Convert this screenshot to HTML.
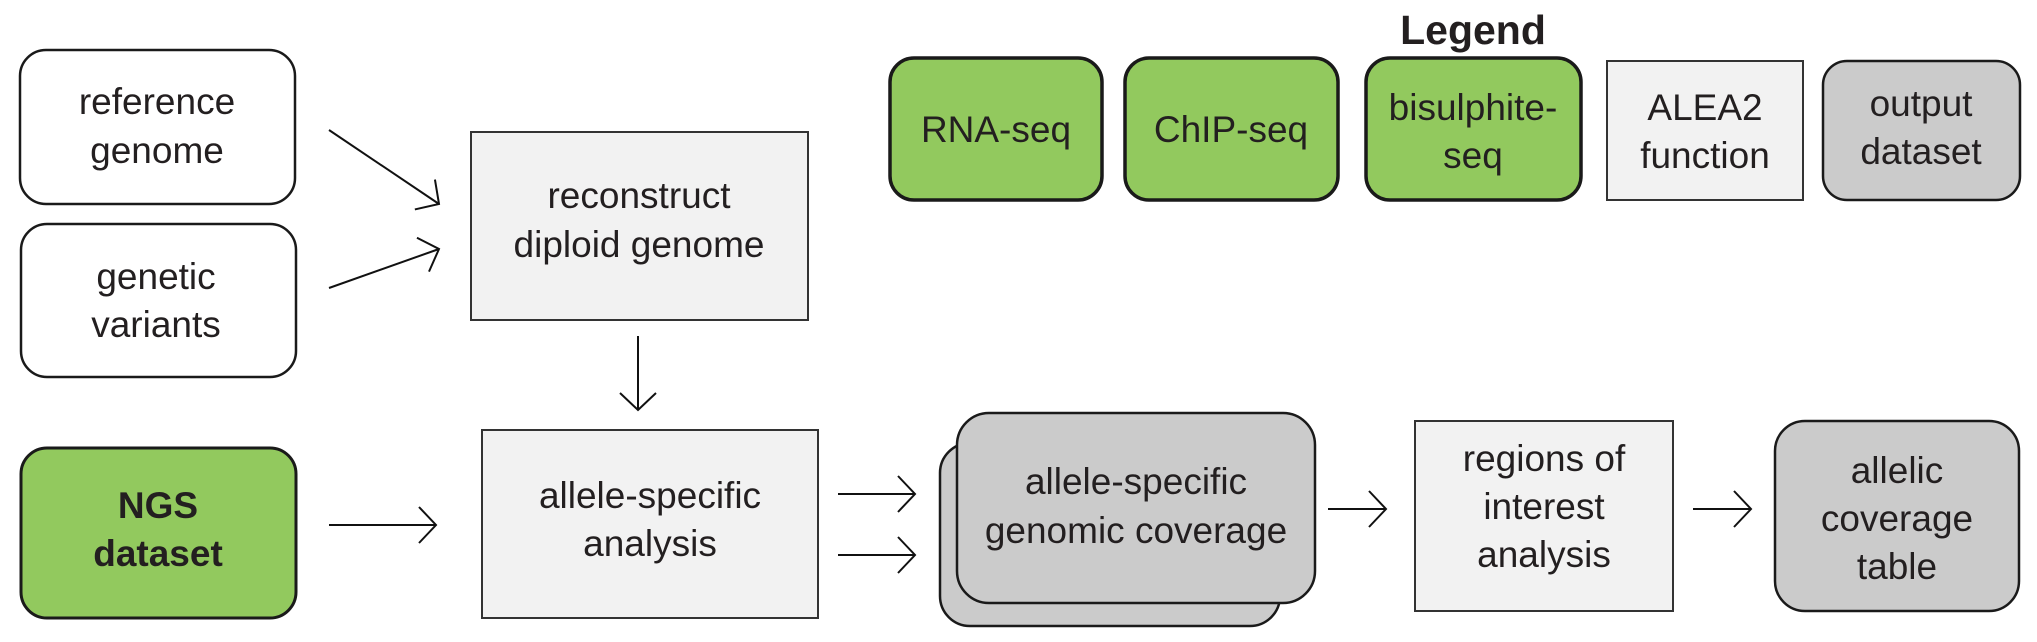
<!DOCTYPE html>
<html><head><meta charset="utf-8"><style>
html,body{margin:0;padding:0;background:#fff;}
svg{display:block;}
text{font-family:"Liberation Sans",Arial,sans-serif;font-size:37px;fill:#231f20;text-anchor:middle;}
</style></head><body>
<svg width="2037" height="642" viewBox="0 0 2037 642" xmlns="http://www.w3.org/2000/svg">
<defs>
<marker id="a" markerWidth="24" markerHeight="40" refX="20" refY="20" orient="auto" markerUnits="userSpaceOnUse">
<path d="M3,2 L20,20 L3,38" fill="none" stroke="#111" stroke-width="2"/>
</marker>
</defs>
<rect x="20" y="50" width="275" height="154" rx="26" fill="#fff" stroke="#1a1a1a" stroke-width="2.5"/>
<text x="157" y="114">reference</text><text x="157" y="163">genome</text>
<rect x="21" y="224" width="275" height="153" rx="26" fill="#fff" stroke="#1a1a1a" stroke-width="2.5"/>
<text x="156" y="289">genetic</text><text x="156" y="337">variants</text>
<rect x="21" y="448" width="275" height="170" rx="26" fill="#92c95e" stroke="#1a1a1a" stroke-width="3"/>
<text x="158" y="518" style="font-weight:bold">NGS</text><text x="158" y="566" style="font-weight:bold">dataset</text>
<rect x="471" y="132" width="337" height="188" fill="#f2f2f2" stroke="#333" stroke-width="2"/>
<text x="639" y="208">reconstruct</text><text x="639" y="257">diploid genome</text>
<rect x="482" y="430" width="336" height="188" fill="#f2f2f2" stroke="#333" stroke-width="2"/>
<text x="650" y="508">allele-specific</text><text x="650" y="556">analysis</text>
<rect x="940" y="443" width="340" height="183" rx="30" fill="#cbcbcb" stroke="#1a1a1a" stroke-width="2.5"/>
<rect x="957" y="413" width="358" height="190" rx="32" fill="#cbcbcb" stroke="#1a1a1a" stroke-width="2.5"/>
<text x="1136" y="494">allele-specific</text><text x="1136" y="543">genomic coverage</text>
<rect x="1415" y="421" width="258" height="190" fill="#f2f2f2" stroke="#333" stroke-width="2"/>
<text x="1544" y="471">regions of</text><text x="1544" y="519">interest</text><text x="1544" y="567">analysis</text>
<rect x="1775" y="421" width="244" height="190" rx="30" fill="#cbcbcb" stroke="#1a1a1a" stroke-width="2.5"/>
<text x="1897" y="483">allelic</text><text x="1897" y="531">coverage</text><text x="1897" y="579">table</text>
<g stroke="#111" stroke-width="2" fill="none" marker-end="url(#a)">
<line x1="329" y1="130" x2="439" y2="204"/>
<line x1="329" y1="288" x2="439" y2="249"/>
<line x1="638" y1="336" x2="638" y2="410"/>
<line x1="329" y1="525" x2="436" y2="525"/>
<line x1="838" y1="494" x2="915" y2="494"/>
<line x1="838" y1="555" x2="915" y2="555"/>
<line x1="1328" y1="509" x2="1386" y2="509"/>
<line x1="1693" y1="509" x2="1751" y2="509"/>
</g>
<text x="1473" y="44" style="font-weight:bold;font-size:41px">Legend</text>
<rect x="890" y="58" width="212" height="142" rx="24" fill="#92c95e" stroke="#1a1a1a" stroke-width="3.5"/>
<text x="996" y="142">RNA-seq</text>
<rect x="1125" y="58" width="213" height="142" rx="24" fill="#92c95e" stroke="#1a1a1a" stroke-width="3.5"/>
<text x="1231" y="142">ChIP-seq</text>
<rect x="1366" y="58" width="215" height="142" rx="24" fill="#92c95e" stroke="#1a1a1a" stroke-width="3.5"/>
<text x="1473" y="120">bisulphite-</text><text x="1473" y="168">seq</text>
<rect x="1607" y="61" width="196" height="139" fill="#f2f2f2" stroke="#333" stroke-width="2"/>
<text x="1705" y="120">ALEA2</text><text x="1705" y="168">function</text>
<rect x="1823" y="61" width="197" height="139" rx="24" fill="#cbcbcb" stroke="#1a1a1a" stroke-width="2.5"/>
<text x="1921" y="116">output</text><text x="1921" y="164">dataset</text>
</svg>
</body></html>
